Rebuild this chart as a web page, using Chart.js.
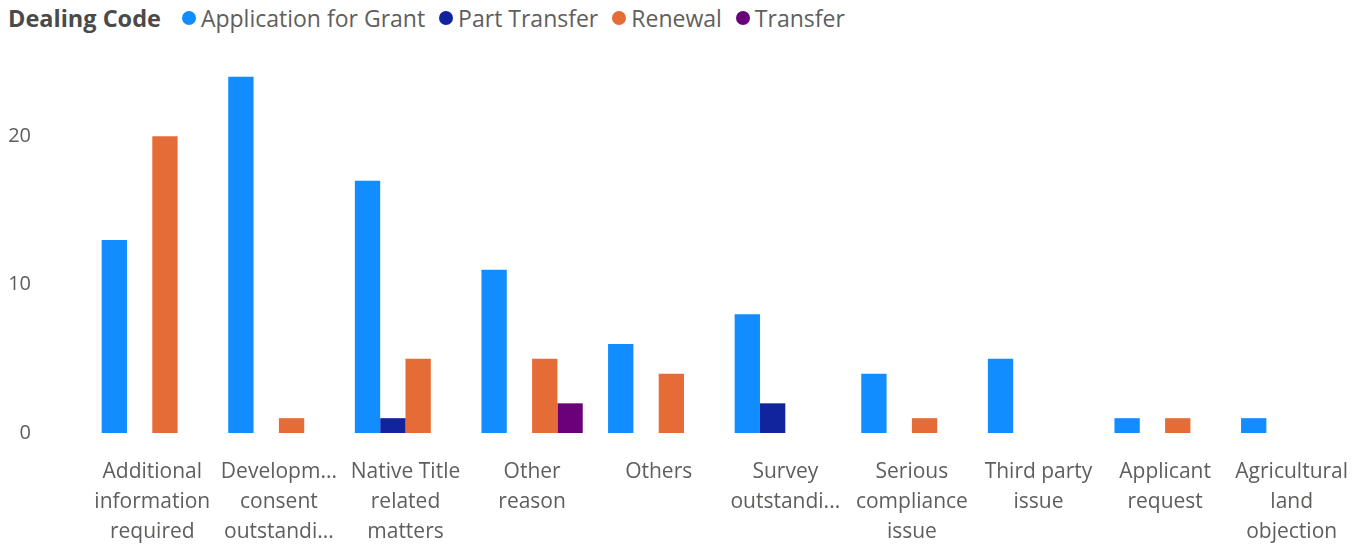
<!DOCTYPE html>
<html>
<head>
<meta charset="utf-8">
<script src="https://cdn.jsdelivr.net/npm/chart.js@4"></script>
<style>
    html, body { margin: 0; padding: 0; background: #fff; }
    body { width: 1365px; height: 544px; position: relative; overflow: hidden; font-family: "Open Sans", sans-serif; }
    #legend { position: absolute; left: 8px; top: 2px; display: flex; align-items: center; font-size: 23px; color: #605E5C; white-space: nowrap; }
    #legend .title { font-weight: bold; font-size: 23.5px; color: #4a4a4a; margin-right: 21px; }
    #legend .item { display: flex; align-items: center; margin-right: 14px; }
    #legend .dot { width: 14px; height: 14px; border-radius: 50%; margin-right: 5px; }
    #wrap { position: absolute; left: 0; top: 0; width: 1365px; height: 544px; }
</style>
</head>
<body>
<div id="legend"></div>
<div id="wrap"><canvas id="barChart"></canvas></div>
<script>
const categories = [
    ['Additional', 'information', 'required'],
    ['Developm...', 'consent', 'outstandi...'],
    ['Native Title', 'related', 'matters'],
    ['Other', 'reason'],
    ['Others'],
    ['Survey', 'outstandi...'],
    ['Serious', 'compliance', 'issue'],
    ['Third party', 'issue'],
    ['Applicant', 'request'],
    ['Agricultural', 'land', 'objection']
];

const applicationForGrant = [13, 24, 17, 11, 6, 8, 4, 5, 1, 1];
const partTransfer        = [null, null, 1, null, null, 2, null, null, null, null];
const renewal             = [20, 1, 5, 5, 4, null, 1, null, 1, null];
const transfer            = [null, null, null, 2, null, null, null, null, null, null];

const seriesNames = ['Application for Grant', 'Part Transfer', 'Renewal', 'Transfer'];
const seriesColors = ['#118DFF', '#12239E', '#E66C37', '#6B007B'];
const yTicks = [0, 10, 20];

function buildLegend() {
    const legend = document.getElementById('legend');
    let html = '<span class="title">Dealing Code</span>';
    seriesNames.forEach((name, i) => {
        html += '<span class="item"><span class="dot" style="background:' + seriesColors[i] + '"></span>' + name + '</span>';
    });
    legend.innerHTML = html;
}

function init() {
    buildLegend();
    const ctx = document.getElementById('barChart').getContext('2d');
    const seriesData = [applicationForGrant, partTransfer, renewal, transfer];

    new Chart(ctx, {
        type: 'bar',
        data: {
            labels: categories,
            datasets: seriesNames.map((name, i) => ({
                label: name,
                data: seriesData[i],
                backgroundColor: seriesColors[i],
                borderWidth: 0,
                categoryPercentage: 0.8,
                barPercentage: 1.0
            }))
        },
        options: {
            responsive: true,
            maintainAspectRatio: false,
            animation: false,
            layout: { padding: { top: 51, right: 10, bottom: 0, left: 0 } },
            plugins: {
                legend: { display: false },
                tooltip: { enabled: false }
            },
            scales: {
                x: {
                    grid: { display: false },
                    border: { display: false },
                    afterFit: scale => { scale.height = 111; },
                    ticks: {
                        color: '#605E5C',
                        font: { family: 'Open Sans', size: 21, lineHeight: 1.43 },
                        maxRotation: 0,
                        autoSkip: false,
                        padding: 16
                    }
                },
                y: {
                    min: 0,
                    max: 25,
                    grid: { display: false },
                    border: { display: false },
                    afterFit: scale => { scale.width = 89; },
                    afterBuildTicks: scale => { scale.ticks = yTicks.map(v => ({ value: v })); },
                    ticks: {
                        color: '#605E5C',
                        font: { family: 'Open Sans', size: 20 },
                        padding: 50
                    }
                }
            }
        }
    });
}

window.onload = init;
</script>
</body>
</html>
